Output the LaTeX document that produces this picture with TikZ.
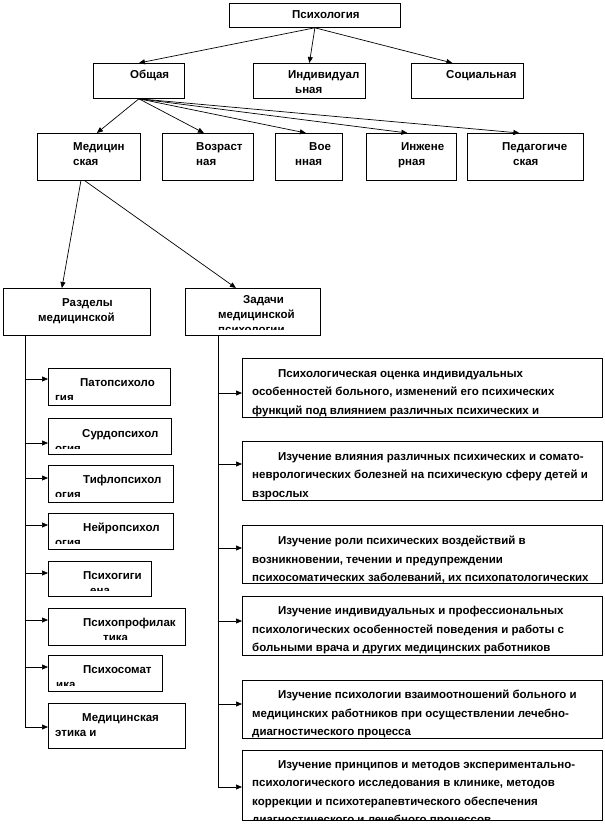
\documentclass[tikz,border=0pt]{standalone}
\usepackage{fontspec}
\setmainfont{Liberation Sans}
\usetikzlibrary{arrows.meta,calc}
\tikzset{
  blk/.style={draw=black,line width=0.8pt,anchor=north west,inner sep=0pt},
  arr/.style={-{Triangle[length=6pt,width=5pt]},line width=0.7pt},
  trunk/.style={line width=0.7pt},
  lbl/.style={anchor=north west,inner sep=0pt,align=left,font=\bfseries\fontsize{11.5}{15}\selectfont},
  tlbl/.style={anchor=north west,inner sep=0pt,align=left,font=\bfseries\fontsize{11.5}{18.5}\selectfont}
}
% how far the text frame sits inside the bottom border
\def\lblinset{6pt}
\def\tlblinset{1pt}
% box with clipped text: name, x, y, w, h, dx, dy, text style, text
\newcommand{\cbox}[9]{%
  \node[blk,minimum width=#4pt,minimum height=#5pt] (#1) at (#2,#3) {};
  \begin{scope}
    \clip (#1.north west) rectangle ([yshift=\csname #8inset\endcsname]#1.south east);
    \node[#8] (#1t) at ([xshift=#6pt,yshift=-#7pt]#1.north west) {#9};
  \end{scope}
}
\begin{document}
\begin{tikzpicture}[x=1pt,y=-1pt]
  \useasboundingbox (0,0) rectangle (605,825);
  % top levels
  \cbox{psy}{229}{3}{171}{24}{63}{7}{lbl}{Психология}
  \cbox{obsh}{93}{63}{91}{35}{37}{7}{lbl}{Общая}
  \cbox{indiv}{253}{63}{112}{35}{35}{7}{lbl}{Индивидуал\\\hspace*{7pt}ьная}
  \cbox{soc}{411}{63}{112}{35}{35}{7}{lbl}{Социальная}
  \cbox{med}{37}{133}{103}{47}{36}{9}{lbl}{Медицин\\ская}
  \cbox{vozr}{162}{133}{91}{47}{34}{9}{lbl}{Возраст\\ная}
  \cbox{voen}{275}{133}{67}{47}{20}{9}{lbl}{\hspace*{14pt}Вое\\нная}
  \cbox{inzh}{366}{133}{90}{47}{32}{9}{lbl}{\hspace*{3pt}Инжене\\рная}
  \cbox{ped}{467}{133}{116}{47}{35}{9}{lbl}{Педагогиче\\\hspace*{11pt}ская}
  \cbox{razd}{3}{288}{147}{47}{35}{10}{lbl}{\hspace*{24pt}Разделы\\медицинской}
  \cbox{zad}{185}{288}{135}{47}{33}{7}{lbl}{\hspace*{25pt}Задачи\\медицинской\\психологии}
  % sections
  \cbox{pato}{48}{368}{122}{37}{7}{10}{lbl}{\hspace*{25pt}Патопсихоло\\гия}
  \cbox{surdo}{48}{418}{123}{36}{7}{11}{lbl}{\hspace*{27pt}Сурдопсихол\\огия}
  \cbox{tiflo}{48}{465}{125}{37}{7}{10}{lbl}{\hspace*{28pt}Тифлопсихол\\огия}
  \cbox{neiro}{48}{513}{125}{36}{7}{10}{lbl}{\hspace*{28pt}Нейропсихол\\огия}
  \cbox{gig}{48}{561}{103}{35}{35}{10}{lbl}{Психогиги\\\hspace*{7pt}ена}
  \cbox{proph}{48}{608}{137}{37}{35}{10}{lbl}{Психопрофилак\\\hspace*{20pt}тика}
  \cbox{somat}{48}{655}{114}{36}{8}{10}{lbl}{\hspace*{27pt}Психосомат\\ика}
  \cbox{etika}{48}{703}{137}{45}{7}{10}{lbl}{\hspace*{27pt}Медицинская\\этика и}
  % tasks
  \cbox{t1}{242}{358}{360}{59}{10}{11}{tlbl}{\hspace*{26pt}Психологическая оценка индивидуальных\\особенностей больного, изменений его психических\\функций под влиянием различных психических и\\соматических заболеваний}
  \cbox{t2}{242}{441}{360}{59}{10}{11}{tlbl}{\hspace*{26pt}Изучение влияния различных психических и сомато-\\неврологических болезней на психическую сферу детей и\\взрослых}
  \cbox{t3}{242}{525}{360}{58}{10}{11}{tlbl}{\hspace*{26pt}Изучение роли психических воздействий в\\возникновении, течении и предупреждении\\психосоматических заболеваний, их психопатологических}
  \cbox{t4}{242}{596}{360}{59}{10}{10}{tlbl}{\hspace*{26pt}Изучение индивидуальных и профессиональных\\психологических особенностей поведения и работы с\\больными врача и других медицинских работников}
  \cbox{t5}{242}{680}{360}{58}{10}{10}{tlbl}{\hspace*{26pt}Изучение психологии взаимоотношений больного и\\медицинских работников при осуществлении лечебно-\\диагностического процесса}
  \cbox{t6}{242}{750}{360}{70}{10}{10}{tlbl}{\hspace*{26pt}Изучение принципов и методов экспериментально-\\психологического исследования в клинике, методов\\коррекции и психотерапевтического обеспечения\\диагностического и лечебного процессов}
  % arrows from the top
  \draw[arr] (psy.south) -- (obsh.north);
  \draw[arr] (psy.south) -- (indiv.north);
  \draw[arr] (psy.south) -- ([xshift=-15pt]soc.north);
  \draw[arr] (obsh.south) -- ([xshift=8pt]med.north);
  \draw[arr] (obsh.south) -- ([xshift=-4pt]vozr.north);
  \draw[arr] (obsh.south) -- ([xshift=-3pt]voen.north);
  \draw[arr] (obsh.south) -- ([xshift=-4pt]inzh.north);
  \draw[arr] (obsh.south) -- ([xshift=-6pt]ped.north);
  \draw[arr] ([xshift=-8pt]med.south) -- ([xshift=-15pt]razd.north);
  \draw[arr] ([xshift=-4pt]med.south) -- ([xshift=-17pt]zad.north);
  % left trunk
  \coordinate (la1) at (25,379);
  \coordinate (la2) at (25,443);
  \coordinate (la3) at (25,478);
  \coordinate (la4) at (25,525);
  \coordinate (la5) at (25,573);
  \coordinate (la6) at (25,620);
  \coordinate (la7) at (25,667);
  \coordinate (la8) at (25,727);
  \draw[trunk] ([xshift=22pt]razd.south west) -- (la8);
  \foreach \c/\b in {la1/pato,la2/surdo,la3/tiflo,la4/neiro,la5/gig,la6/proph,la7/somat,la8/etika}
    \draw[arr] (\c) -- (\c -| \b.west);
  % right trunk
  \coordinate (ra1) at (218,393);
  \coordinate (ra2) at (218,464);
  \coordinate (ra3) at (218,548);
  \coordinate (ra4) at (218,621);
  \coordinate (ra5) at (218,704);
  \coordinate (ra6) at (218,787);
  \draw[trunk] ([xshift=33pt]zad.south west) -- (ra6);
  \foreach \c/\b in {ra1/t1,ra2/t2,ra3/t3,ra4/t4,ra5/t5,ra6/t6}
    \draw[arr] (\c) -- (\c -| \b.west);
\end{tikzpicture}
\end{document}
